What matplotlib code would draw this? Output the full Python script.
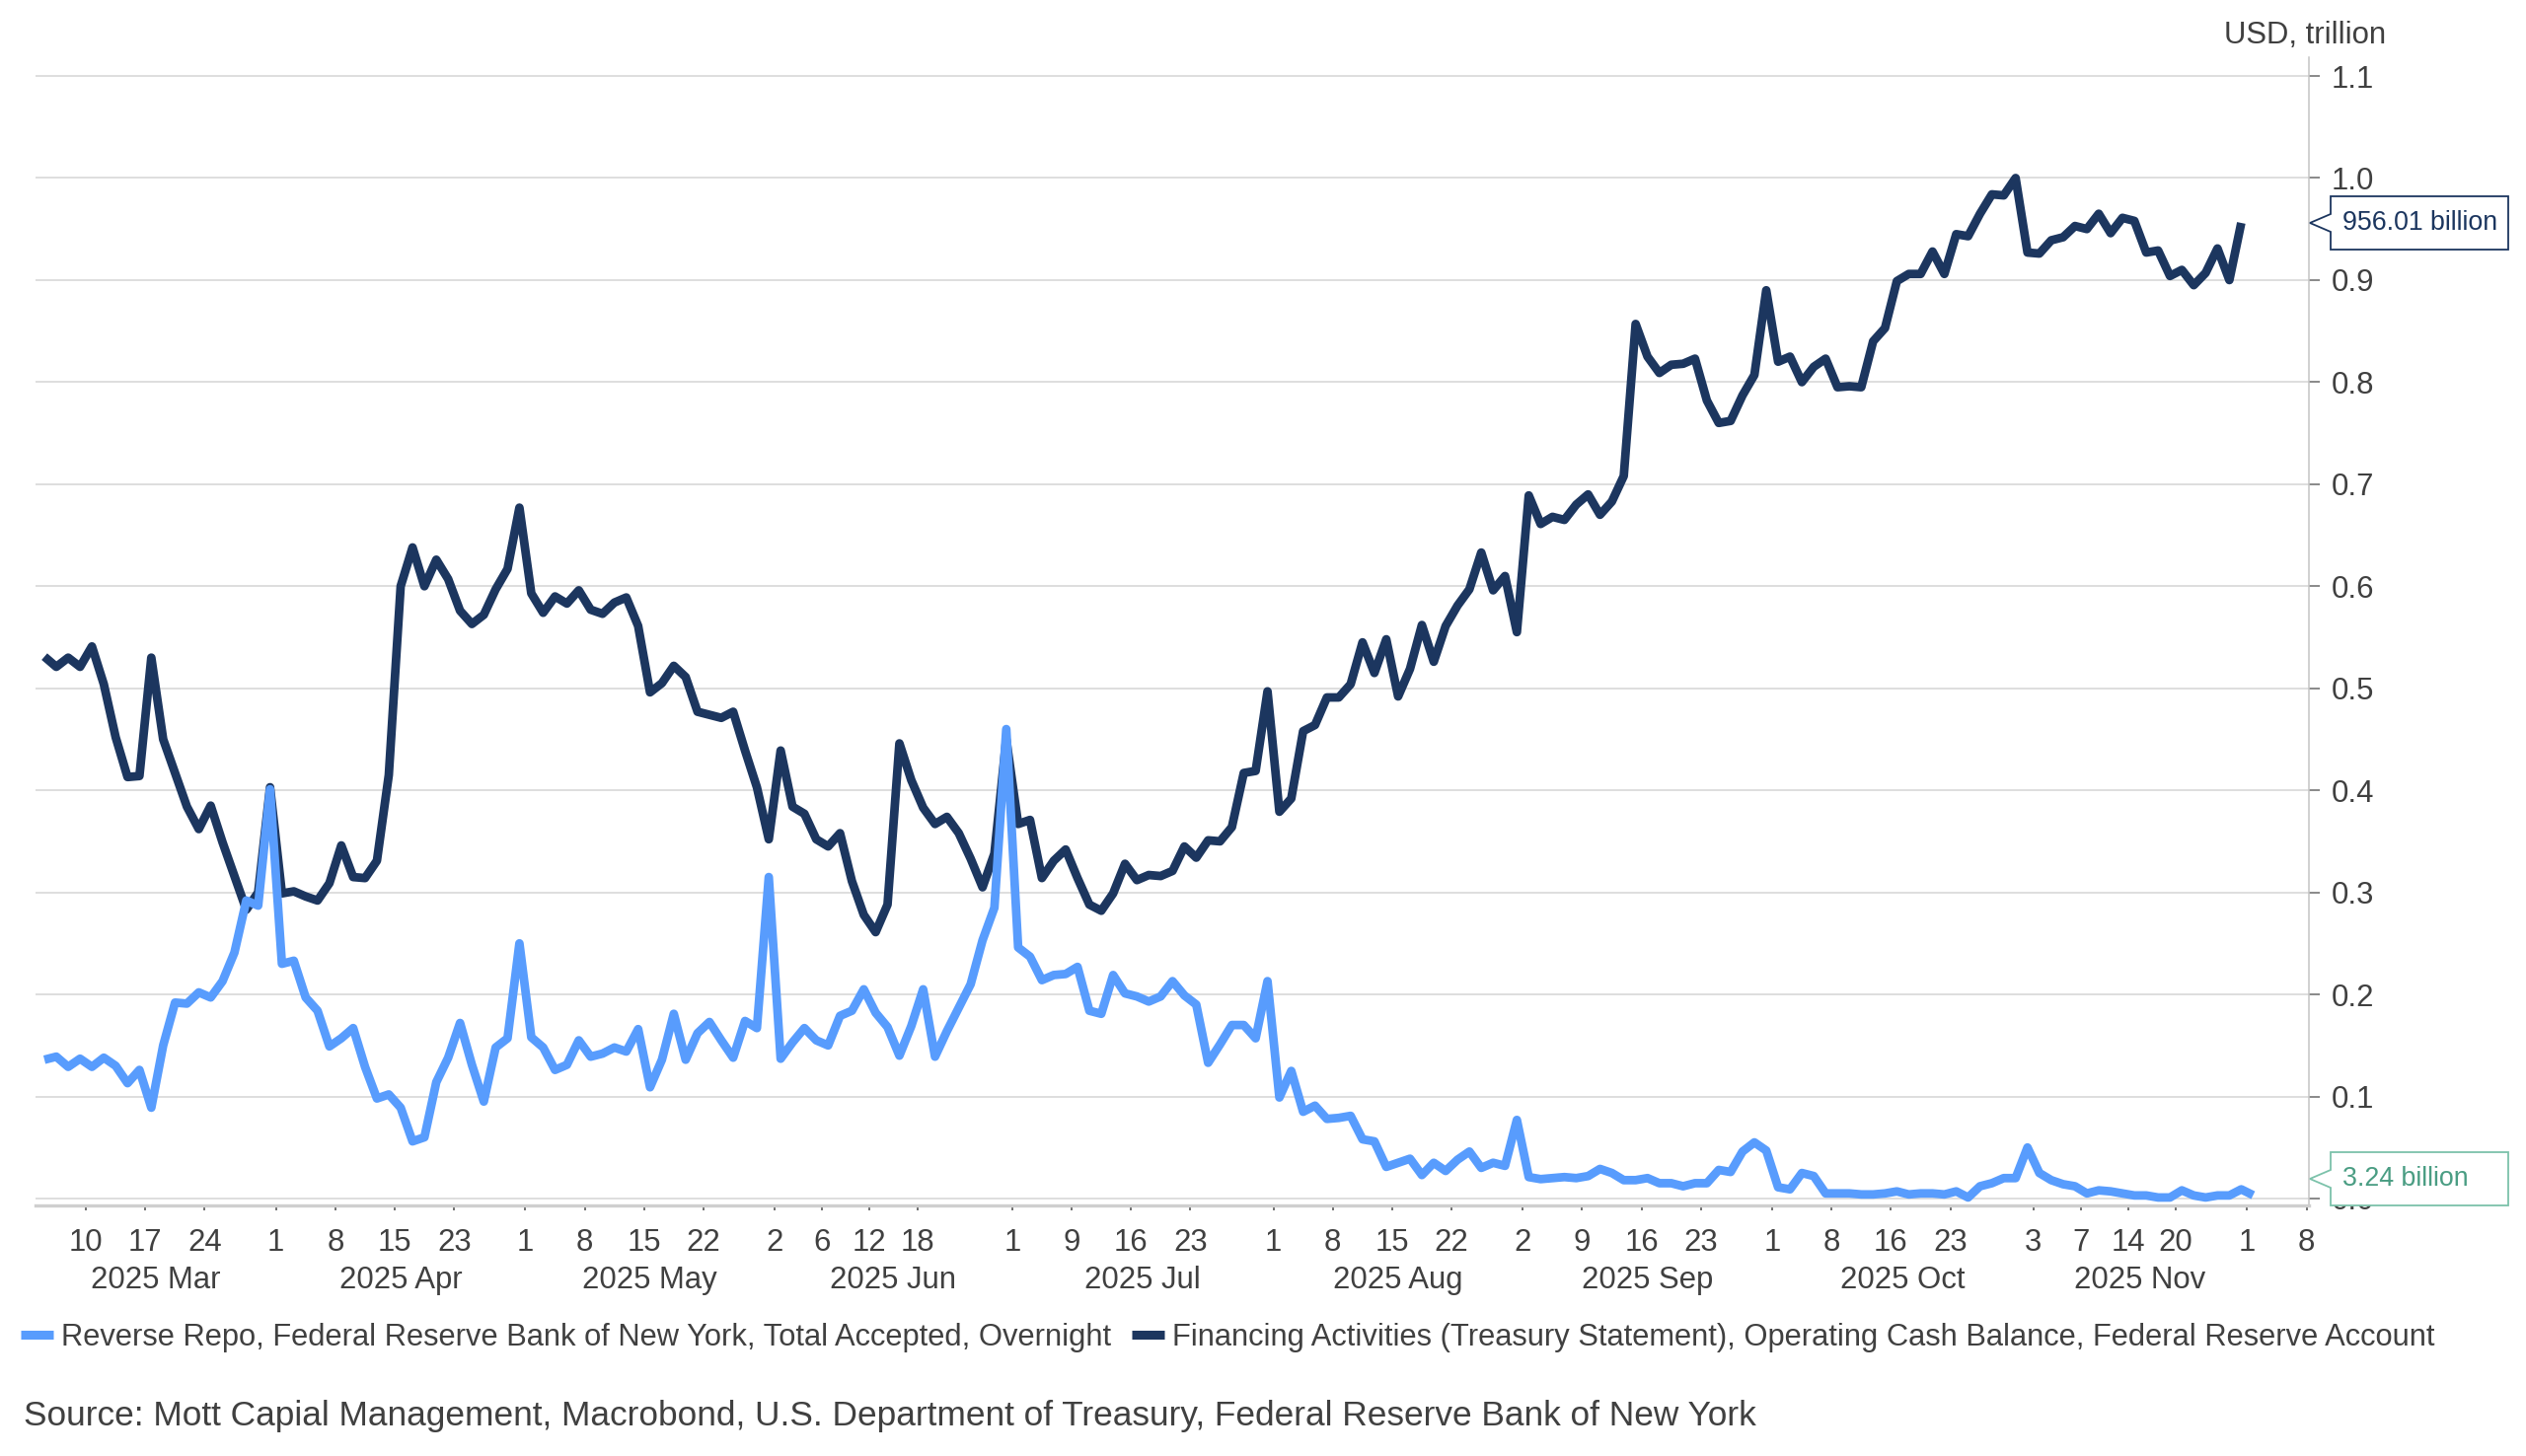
import numpy as np
import pandas as pd
import matplotlib
matplotlib.use("Agg")
import matplotlib.pyplot as plt
from matplotlib.patches import Polygon
from matplotlib.lines import Line2D

plt.rcParams['font.family'] = ['Liberation Sans', 'DejaVu Sans']

# ---------------- data ----------------
start_date = "2025-03-04"
axis_end_date = "2025-12-08"
market_holidays = ["2025-04-18", "2025-05-26", "2025-06-19", "2025-07-04",
                   "2025-09-01", "2025-10-13", "2025-11-11", "2025-11-27"]

# Reverse Repo, total accepted, overnight (USD trillion), one value per business day
rrp_tn = [
    0.136, 0.139, 0.129, 0.137, 0.129, 0.138, 0.130, 0.113, 0.126, 0.089,
    0.150, 0.192, 0.191, 0.202, 0.197, 0.213, 0.241, 0.292, 0.287, 0.401,
    0.230, 0.233, 0.197, 0.184, 0.149, 0.157, 0.167, 0.129, 0.098, 0.102,
    0.089, 0.056, 0.060, 0.114, 0.138, 0.172, 0.131, 0.095, 0.148, 0.157,
    0.250, 0.158, 0.148, 0.126, 0.131, 0.155, 0.139, 0.142, 0.148, 0.144,
    0.166, 0.109, 0.136, 0.181, 0.136, 0.162, 0.173, 0.155, 0.138, 0.174,
    0.167, 0.315, 0.137, 0.153, 0.167, 0.155, 0.150, 0.179, 0.184, 0.205,
    0.182, 0.168, 0.140, 0.169, 0.205, 0.139, 0.164, 0.187, 0.210, 0.253,
    0.285, 0.460, 0.246, 0.237, 0.214, 0.219, 0.220, 0.227, 0.184, 0.181,
    0.219, 0.201, 0.198, 0.193, 0.198, 0.213, 0.199, 0.190, 0.133, 0.151,
    0.170, 0.170, 0.157, 0.213, 0.099, 0.125, 0.085, 0.091, 0.078, 0.079,
    0.081, 0.058, 0.056, 0.031, 0.035, 0.039, 0.023, 0.035, 0.027, 0.038,
    0.046, 0.030, 0.035, 0.032, 0.077, 0.021, 0.019, 0.020, 0.021, 0.020,
    0.022, 0.029, 0.025, 0.018, 0.018, 0.020, 0.015, 0.015, 0.012, 0.015,
    0.015, 0.028, 0.026, 0.046, 0.055, 0.047, 0.011, 0.009, 0.025, 0.022,
    0.005, 0.005, 0.005, 0.004, 0.004, 0.005, 0.007, 0.004, 0.005, 0.005,
    0.004, 0.007, 0.001, 0.012, 0.015, 0.020, 0.020, 0.050, 0.025, 0.018,
    0.014, 0.012, 0.005, 0.008, 0.007, 0.005, 0.003, 0.003, 0.001, 0.001,
    0.008, 0.003, 0.001, 0.003, 0.003, 0.009, 0.00324]

# Treasury operating cash balance, Federal Reserve account (USD trillion)
tga_tn = [
    0.531, 0.521, 0.530, 0.521, 0.541, 0.504, 0.452, 0.413, 0.414, 0.530,
    0.450, 0.417, 0.384, 0.362, 0.385, 0.349, 0.316, 0.283, 0.300, 0.403,
    0.299, 0.301, 0.296, 0.292, 0.309, 0.346, 0.315, 0.314, 0.331, 0.415,
    0.600, 0.638, 0.600, 0.626, 0.607, 0.576, 0.563, 0.572, 0.597, 0.617,
    0.677, 0.593, 0.574, 0.590, 0.583, 0.596, 0.577, 0.573, 0.584, 0.589,
    0.561, 0.496, 0.505, 0.522, 0.511, 0.477, 0.474, 0.471, 0.477, 0.439,
    0.403, 0.352, 0.439, 0.384, 0.377, 0.352, 0.345, 0.358, 0.311, 0.278,
    0.261, 0.288, 0.446, 0.410, 0.383, 0.367, 0.374, 0.358, 0.333, 0.305,
    0.338, 0.450, 0.367, 0.371, 0.314, 0.331, 0.342, 0.314, 0.288, 0.282,
    0.299, 0.328, 0.312, 0.317, 0.316, 0.321, 0.345, 0.334, 0.351, 0.350,
    0.364, 0.417, 0.419, 0.497, 0.379, 0.392, 0.458, 0.464, 0.491, 0.491,
    0.504, 0.545, 0.515, 0.548, 0.492, 0.519, 0.562, 0.526, 0.561, 0.581,
    0.597, 0.633, 0.596, 0.610, 0.555, 0.689, 0.661, 0.668, 0.665, 0.680,
    0.690, 0.670, 0.683, 0.708, 0.857, 0.825, 0.809, 0.817, 0.818, 0.823,
    0.782, 0.760, 0.762, 0.787, 0.807, 0.890, 0.820, 0.825, 0.800, 0.815,
    0.823, 0.795, 0.796, 0.795, 0.840, 0.853, 0.899, 0.906, 0.906, 0.928,
    0.906, 0.945, 0.943, 0.965, 0.984, 0.983, 1.000, 0.927, 0.926, 0.939,
    0.942, 0.953, 0.950, 0.965, 0.946, 0.961, 0.958, 0.927, 0.929, 0.904,
    0.910, 0.895, 0.907, 0.931, 0.900, 0.95601]

tick_dates = ["2025-03-10", "2025-03-17", "2025-03-24",
              "2025-04-01", "2025-04-08", "2025-04-15", "2025-04-23",
              "2025-05-01", "2025-05-08", "2025-05-15", "2025-05-22",
              "2025-06-02", "2025-06-06", "2025-06-12", "2025-06-18",
              "2025-07-01", "2025-07-09", "2025-07-16", "2025-07-23",
              "2025-08-01", "2025-08-08", "2025-08-15", "2025-08-22",
              "2025-09-02", "2025-09-09", "2025-09-16", "2025-09-23",
              "2025-10-01", "2025-10-08", "2025-10-16", "2025-10-23",
              "2025-11-03", "2025-11-07", "2025-11-14", "2025-11-20",
              "2025-12-01", "2025-12-08"]
month_start_dates = ["2025-04-01", "2025-05-01", "2025-06-02", "2025-07-01",
                     "2025-08-01", "2025-09-02", "2025-10-01", "2025-11-03",
                     "2025-12-01"]
month_labels = ["2025 Mar", "2025 Apr", "2025 May", "2025 Jun", "2025 Jul",
                "2025 Aug", "2025 Sep", "2025 Oct", "2025 Nov"]

series_names = ["Reverse Repo, Federal Reserve Bank of New York, Total Accepted, Overnight",
                "Financing Activities (Treasury Statement), Operating Cash Balance, Federal Reserve Account"]
last_labels = ["3.24 billion", "956.01 billion"]
source_text = ("Source: Mott Capial Management, Macrobond, U.S. Department of Treasury, "
               "Federal Reserve Bank of New York")

# ---------------- styling ----------------
C_RRP = "#589cfd"
C_TGA = "#1c365f"
C_TEXT = "#404040"
C_GRID = "#d4d4d4"
C_TEAL_EDGE = "#7cc2aa"
C_TEAL_TEXT = "#4a9d83"
FS = 22.4
W, H = 2560, 1476

calendar = pd.bdate_range(start_date, axis_end_date, freq="C", holidays=market_holidays)
pos = {d: i for i, d in enumerate(calendar)}
x_rrp = np.arange(len(rrp_tn))
x_tga = np.arange(len(tga_tn))

fig = plt.figure(figsize=(W / 100, H / 100), dpi=100)
ax_l, ax_r, ax_t, ax_b = 36, 2340, 58, 1222
ax = fig.add_axes([ax_l / W, 1 - ax_b / H, (ax_r - ax_l) / W, (ax_b - ax_t) / H])

ax.plot(x_tga, tga_tn, color=C_TGA, lw=6.3, solid_joinstyle="round",
        solid_capstyle="butt", zorder=3)
ax.plot(x_rrp, rrp_tn, color=C_RRP, lw=6.3, solid_joinstyle="round",
        solid_capstyle="butt", zorder=4)

xlim = (-0.75, pos[pd.Timestamp(axis_end_date)] - 0.3)
ax.set_xlim(*xlim)
ax.set_ylim(-0.0068, 1.1184)

# y axis (right)
ax.yaxis.tick_right()
yt = np.round(np.arange(0, 1.11, 0.1), 1)
ax.set_yticks(yt)
ax.set_yticklabels([f"{v:.1f}" for v in yt])
ax.tick_params(axis="y", which="major", length=8, width=1.1, color="#6a6a6a",
               pad=8.5, labelsize=FS, labelcolor=C_TEXT)
ax.grid(axis="y", color=C_GRID, lw=1.1)
ax.set_axisbelow(True)

for s in ["top", "left"]:
    ax.spines[s].set_visible(False)
ax.spines["right"].set_color("#c4c4c4")
ax.spines["right"].set_linewidth(1.1)
ax.spines["bottom"].set_color("#cfcfcf")
ax.spines["bottom"].set_linewidth(2.4)

# x axis: day ticks placed at the start of each observation slot
tick_pos = [pos[pd.Timestamp(d)] - 0.5 for d in tick_dates]
ax.set_xticks(tick_pos)
ax.set_xticklabels([str(pd.Timestamp(d).day) for d in tick_dates])
month_pos = [pos[pd.Timestamp(d)] - 0.5 for d in month_start_dates]
ax.set_xticks(month_pos, minor=True)
ax.tick_params(axis="x", which="major", length=3.8, width=1.2, color="#555555",
               pad=12.5, labelsize=FS, labelcolor=C_TEXT)
ax.tick_params(axis="x", which="minor", length=8, width=1.2, color="#555555")

bounds = [xlim[0]] + month_pos
for i, lab in enumerate(month_labels):
    center = (bounds[i] + bounds[i + 1]) / 2
    ax.annotate(lab, xy=(center, 0), xycoords=("data", "axes fraction"),
                xytext=(0, -54.5), textcoords="offset points", ha="center",
                va="center", fontsize=FS, color=C_TEXT, annotation_clip=False)

# unit label
fig.text(2418 / W, 1 - 36 / H, "USD, trillion", ha="right", va="center",
         fontsize=FS, color=C_TEXT)

# last-value callouts
def callout(value, text, edge, tcolor):
    tip_x = ax_r
    y_disp = ax.transData.transform((0, value))[1]
    half = 27
    bottom_px = H - ax_b
    yc = max(y_disp, bottom_px + half)
    bl, br = tip_x + 22, tip_x + 202
    verts = [(bl, yc - half), (br, yc - half), (br, yc + half), (bl, yc + half),
             (bl, yc + 9), (tip_x + 1, yc), (bl, yc - 9)]
    verts = [(vx / W, vy / H) for vx, vy in verts]
    poly = Polygon(verts, closed=True, facecolor="white", edgecolor=edge,
                   lw=1.3, transform=fig.transFigure, zorder=5)
    fig.add_artist(poly)
    fig.text((bl + 12) / W, yc / H, text, ha="left", va="center", fontsize=19.3,
             color=tcolor, zorder=6)

callout(tga_tn[-1], last_labels[1], C_TGA, C_TGA)
callout(rrp_tn[-1], last_labels[0], C_TEAL_EDGE, C_TEAL_TEXT)

# legend
handles = [Line2D([0], [0], color=C_RRP, lw=6.5, solid_capstyle="butt"),
           Line2D([0], [0], color=C_TGA, lw=6.5, solid_capstyle="butt")]
fig.legend(handles, series_names, loc="center left",
           bbox_to_anchor=(21 / W, 1 - 1356 / H), ncol=2, frameon=False,
           fontsize=22.27, labelcolor=C_TEXT, handlelength=1.07, handletextpad=0.27,
           columnspacing=0.65, borderaxespad=0, borderpad=0)

fig.text(24 / W, 1 - 1435 / H, source_text, ha="left", va="center",
         fontsize=25.4, color=C_TEXT)

fig.savefig("out.png", dpi=100, facecolor="white")
